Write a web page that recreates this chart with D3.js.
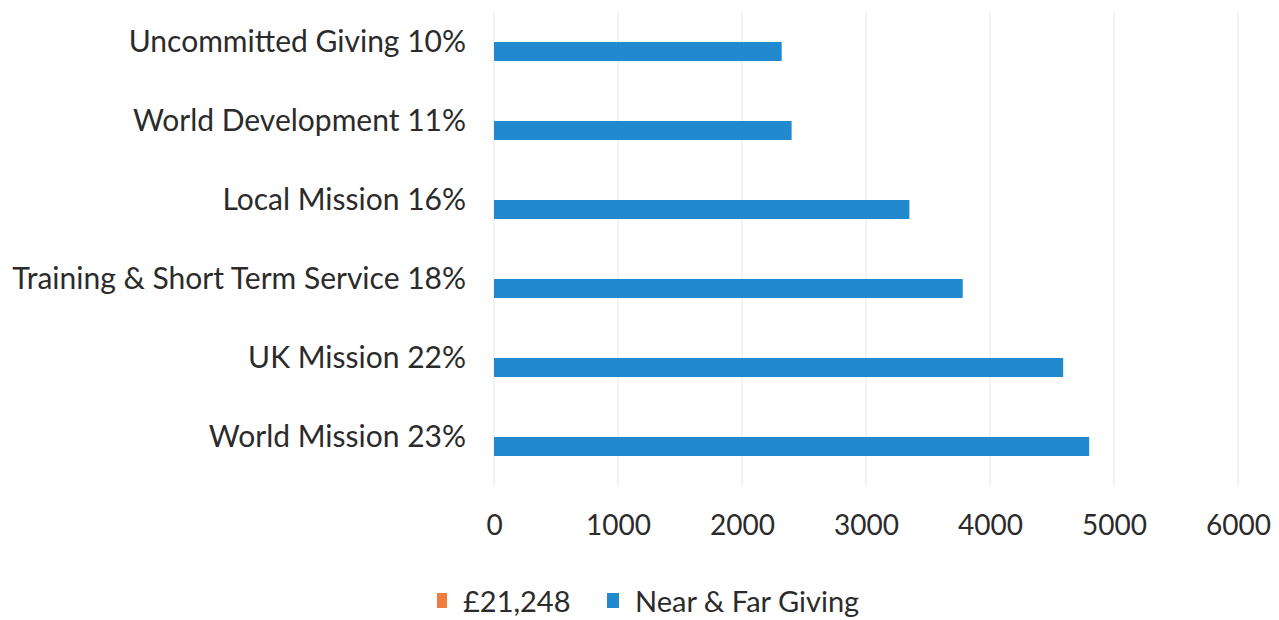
<!DOCTYPE html>
<html>
<head>
<meta charset="utf-8">
<script src="https://cdn.jsdelivr.net/npm/d3@7"></script>
<style>
  body { margin: 0; background: #fff; }
  svg text { font-family: Lato, "Open Sans", sans-serif; fill: #2b2b2b; }
</style>
</head>
<body>
<svg id="chart" width="1279" height="620"></svg>
<script>
// chart data
var categories = [
    'Uncommitted Giving 10%',
    'World Development 11%',
    'Local Mission 16%',
    'Training & Short Term Service 18%',
    'UK Mission 22%',
    'World Mission 23%'
];
var totalValues = [0, 0, 0, 0, 0, 0];          // "£21,248" series, not drawn
var nearFarValues = [2320, 2400, 3350, 3780, 4590, 4800];
var xTicks = [0, 1000, 2000, 3000, 4000, 5000, 6000];
var seriesNames = ['£21,248', 'Near & Far Giving'];
var seriesColors = ['#f07b3f', '#2289cf'];

var svg = d3.select('#chart');
var margin = {top: 12, right: 40, bottom: 134, left: 494};
var width = 1279 - margin.left - margin.right;
var height = 620 - margin.top - margin.bottom;

var g = svg.append('g')
    .attr('transform', 'translate(' + margin.left + ',' + margin.top + ')');

var x = d3.scaleLinear().domain([0, 6000]).range([0, 744]);
var y = d3.scaleBand().domain(categories).range([0, height]).paddingInner(0).paddingOuter(0);
var barH = 19;

// gridlines
g.selectAll('line.grid')
    .data(xTicks)
    .enter().append('line')
        .attr('class', 'grid')
        .attr('x1', function(d) { return x(d); })
        .attr('x2', function(d) { return x(d); })
        .attr('y1', 0)
        .attr('y2', height)
        .attr('stroke', '#efefef')
        .attr('stroke-width', 1.5);

// bars
var rows = categories.map(function(c, i) {
    return {cat: c, total: totalValues[i], value: nearFarValues[i]};
});

g.selectAll('rect.total')
    .data(rows)
    .enter().append('rect')
        .attr('class', 'total')
        .attr('x', x(0))
        .attr('y', function(d) { return y(d.cat) + y.bandwidth() / 2 - barH / 2; })
        .attr('width', function(d) { return x(d.total) - x(0); })
        .attr('height', barH)
        .attr('fill', seriesColors[0]);

g.selectAll('rect.bar')
    .data(rows)
    .enter().append('rect')
        .attr('class', 'bar')
        .attr('x', x(0))
        .attr('y', function(d) { return y(d.cat) + y.bandwidth() / 2 - barH / 2; })
        .attr('width', function(d) { return x(d.value) - x(0); })
        .attr('height', barH)
        .attr('fill', seriesColors[1]);

// category axis
var yAxis = g.append('g')
    .call(d3.axisLeft(y).tickSize(0).tickPadding(28));
yAxis.select('.domain').remove();
yAxis.selectAll('text')
    .style('font-size', '30px')
    .attr('dy', '0.02em');

// value axis
var xAxis = g.append('g')
    .attr('transform', 'translate(0,' + height + ')')
    .call(d3.axisBottom(x).tickValues(xTicks).tickSize(0).tickPadding(29).tickFormat(d3.format('d')));
xAxis.select('.domain').remove();
xAxis.selectAll('text')
    .style('font-size', '28px');

// legend
var legend = svg.append('g').attr('transform', 'translate(437,602)');
var legendX = [0, 170];
seriesNames.forEach(function(name, i) {
    var item = legend.append('g').attr('transform', 'translate(' + legendX[i] + ',0)');
    item.append('rect')
        .attr('x', 0).attr('y', -9)
        .attr('width', 10 + i * 2).attr('height', 15)
        .attr('fill', seriesColors[i]);
    item.append('text')
        .attr('x', 26 + i * 2)
        .attr('dy', '0.35em')
        .style('font-size', '29px')
        .text(name);
});
</script>
</body>
</html>
